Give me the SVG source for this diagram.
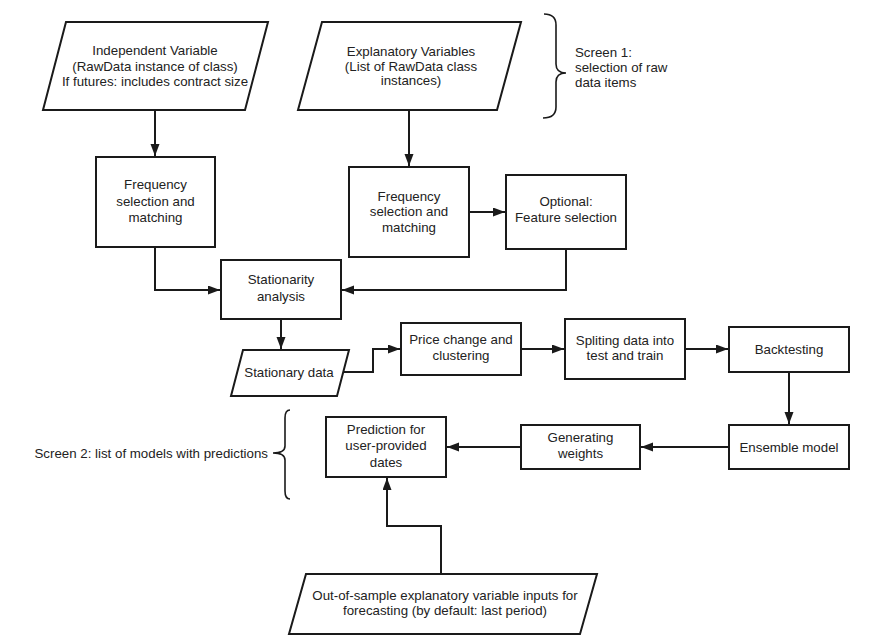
<svg xmlns="http://www.w3.org/2000/svg" width="879" height="638" viewBox="0 0 879 638">
<style>
.box{fill:#fff;stroke:#1a1a1a;stroke-width:2}
.t{font-family:"Liberation Sans",Arial,sans-serif;font-size:13.3px;fill:#222;text-anchor:middle}
.tl{font-family:"Liberation Sans",Arial,sans-serif;font-size:13.3px;fill:#222}
.c{fill:none;stroke:#1a1a1a;stroke-width:2}
.br{fill:none;stroke:#1a1a1a;stroke-width:1.6}
</style>
<defs>
<marker id="ah" markerUnits="userSpaceOnUse" markerWidth="13" markerHeight="10" refX="12" refY="4.5" orient="auto">
<path d="M0,0 L12,4.5 L0,9 z" fill="#1a1a1a"/>
</marker>
</defs>
<rect width="879" height="638" fill="#fff"/>
<g id="connectors">
<path class="c" d="M155,110 L155,156" marker-end="url(#ah)"/>
<path class="c" d="M409,110 L409,166" marker-end="url(#ah)"/>
<path class="c" d="M155,247 L155,290 L220,290" marker-end="url(#ah)"/>
<path class="c" d="M469,212 L505,212" marker-end="url(#ah)"/>
<path class="c" d="M566,249 L566,290 L342,290" marker-end="url(#ah)"/>
<path class="c" d="M281,319 L281,349" marker-end="url(#ah)"/>
<path class="c" d="M343,372 L373,372 L373,349 L400,349" marker-end="url(#ah)"/>
<path class="c" d="M521,349 L564,349" marker-end="url(#ah)"/>
<path class="c" d="M685,349 L728,349" marker-end="url(#ah)"/>
<path class="c" d="M789,372 L789,424" marker-end="url(#ah)"/>
<path class="c" d="M729,447 L641,447" marker-end="url(#ah)"/>
<path class="c" d="M521,447 L447,447" marker-end="url(#ah)"/>
<path class="c" d="M441,574 L441,526 L387,526 L387,478" marker-end="url(#ah)"/>
</g>
<g id="independent">
<polygon class="box" points="66,22 268,22 245,110 43,110"/>
<text class="t" x="155" y="55">Independent Variable</text>
<text class="t" x="155" y="70.5">(RawData instance of class)</text>
<text class="t" x="155" y="86">If futures: includes contract size</text>
</g>
<g id="explanatory">
<polygon class="box" points="322,22 521,22 497,110 298,110"/>
<text class="t" x="411" y="56">Explanatory Variables</text>
<text class="t" x="411" y="70.5">(List of RawData class</text>
<text class="t" x="411" y="85">instances)</text>
</g>
<g id="screen1">
<path class="br" d="M544,14 Q556,14 556,25 L556,64 Q556,73 566,73 Q556,73 556,82 L556,107 Q556,118 543,118"/>
<text class="tl" x="575" y="57">Screen 1:</text>
<text class="tl" x="575" y="72">selection of raw</text>
<text class="tl" x="575" y="87">data items</text>
</g>
<g id="freqL">
<rect class="box" x="96" y="157" width="119" height="90"/>
<text class="t" x="155.5" y="189">Frequency</text>
<text class="t" x="155.5" y="205.5">selection and</text>
<text class="t" x="155.5" y="221.5">matching</text>
</g>
<g id="freqR">
<rect class="box" x="349" y="167" width="120" height="90"/>
<text class="t" x="409" y="200.5">Frequency</text>
<text class="t" x="409" y="216">selection and</text>
<text class="t" x="409" y="231.5">matching</text>
</g>
<g id="optional">
<rect class="box" x="506" y="175" width="120" height="74"/>
<text class="t" x="566" y="206">Optional:</text>
<text class="t" x="566" y="222">Feature selection</text>
</g>
<g id="stationarity">
<rect class="box" x="221" y="260" width="120" height="59"/>
<text class="t" x="281" y="284">Stationarity</text>
<text class="t" x="281" y="300.5">analysis</text>
</g>
<g id="stationarydata">
<polygon class="box" points="243,350 349,350 337,396 231,396"/>
<text class="t" x="289" y="377">Stationary data</text>
</g>
<g id="price">
<rect class="box" x="401" y="323" width="120" height="52"/>
<text class="t" x="461" y="344">Price change and</text>
<text class="t" x="461" y="360">clustering</text>
</g>
<g id="splitting">
<rect class="box" x="565" y="319" width="120" height="60"/>
<text class="t" x="625" y="345">Spliting data into</text>
<text class="t" x="625" y="360">test and train</text>
</g>
<g id="backtesting">
<rect class="box" x="729" y="327" width="120" height="45"/>
<text class="t" x="789" y="354">Backtesting</text>
</g>
<g id="ensemble">
<rect class="box" x="729" y="425" width="120" height="44"/>
<text class="t" x="789" y="451.5">Ensemble model</text>
</g>
<g id="generating">
<rect class="box" x="521" y="425" width="119" height="44"/>
<text class="t" x="580.5" y="442">Generating</text>
<text class="t" x="580.5" y="458">weights</text>
</g>
<g id="prediction">
<rect class="box" x="326" y="417" width="120" height="60"/>
<text class="t" x="386" y="434">Prediction for</text>
<text class="t" x="386" y="450">user-provided</text>
<text class="t" x="386" y="466.5">dates</text>
</g>
<g id="screen2">
<path class="br" d="M290,410 Q285,410 285,418 L285,446 Q285,453 273,453 Q285,453 285,460 L285,491 Q285,499 290,499"/>
<text class="tl" x="268" y="458" text-anchor="end">Screen 2: list of models with predictions</text>
</g>
<g id="outofsample">
<polygon class="box" points="306,574 597,574 580,634 289,634"/>
<text class="t" x="445" y="600">Out-of-sample explanatory variable inputs for</text>
<text class="t" x="445" y="615">forecasting (by default: last period)</text>
</g>
</svg>
